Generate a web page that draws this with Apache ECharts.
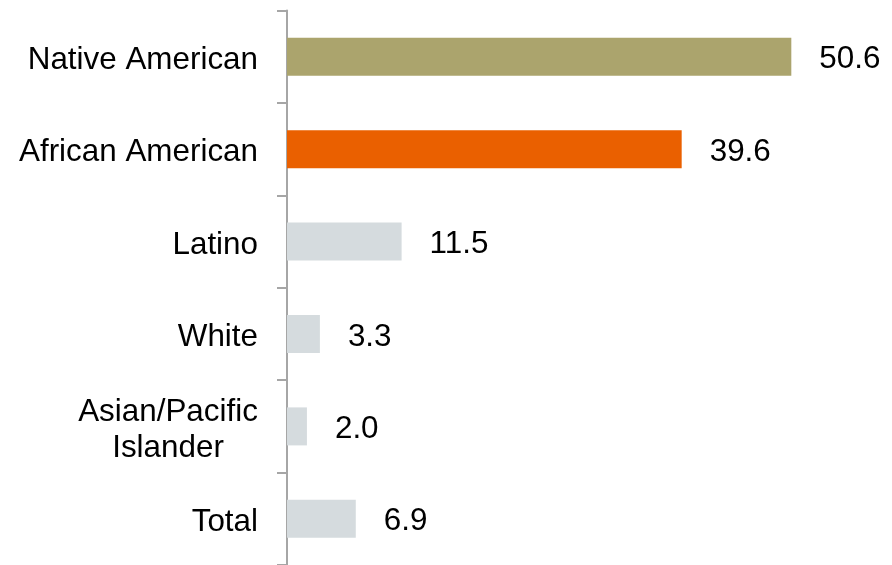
<!DOCTYPE html>
<html>
<head>
<meta charset="utf-8">
<script src="https://cdn.jsdelivr.net/npm/echarts@6/dist/echarts.min.js"></script>
<style>
  html, body { margin: 0; padding: 0; background: #fff; }
  #chart { width: 892px; height: 565px; }
</style>
</head>
<body>
<div id="chart"></div>
<script>
// Rates by group, top to bottom
const categories = ['Native American', 'African American', 'Latino', 'White', 'Asian/Pacific\nIslander', 'Total'];
const values = [50.6, 39.6, 11.5, 3.3, 2.0, 6.9];
const barColors = ['#ABA46D', '#EA6000', '#D5DBDE', '#D5DBDE', '#D5DBDE', '#D5DBDE'];

const chart = echarts.init(document.getElementById('chart'), null, { renderer: 'canvas' });

const FONT = '"Liberation Sans", Arial, sans-serif';
const FONT_SIZE = 31.4;

// width of the widest line, so the lines of a wrapped label sit centred on each other
function lineWidth(text) {
  const ctx = document.createElement('canvas').getContext('2d');
  ctx.font = FONT_SIZE + 'px ' + FONT;
  return Math.ceil(ctx.measureText(text).width);
}
const wrapWidth = Math.max.apply(null, categories
  .filter(function (c) { return c.indexOf('\n') >= 0; })
  .map(function (c) { return Math.max.apply(null, c.split('\n').map(lineWidth)); })
  .concat([0]));

chart.setOption({
  animation: false,
  grid: { left: 287, right: 7, top: 10.6, height: 556.8, containLabel: false },
  xAxis: {
    type: 'value',
    min: 0,
    max: 60,
    show: false
  },
  yAxis: {
    type: 'category',
    inverse: true,
    data: categories,
    axisLine: { show: true, lineStyle: { color: '#A6A6A6', width: 2 } },
    axisTick: { show: true, length: 10, lineStyle: { color: '#A6A6A6', width: 2 } },
    axisLabel: {
      margin: 29,
      color: '#000',
      fontFamily: FONT,
      fontSize: FONT_SIZE,
      lineHeight: 36,
      padding: [7, 0, 0, 0],
      formatter: function (v) {
        if (v.indexOf('\n') >= 0) {
          return v.split('\n').map(function (s) { return '{c|' + s + '}'; }).join('\n');
        }
        return v;
      },
      rich: {
        c: { width: wrapWidth, align: 'center', fontFamily: FONT, fontSize: FONT_SIZE, lineHeight: 36, color: '#000' }
      }
    }
  },
  series: [{
    type: 'bar',
    data: values.map(function (v, i) { return { value: v, itemStyle: { color: barColors[i] } }; }),
    barWidth: 38,
    label: {
      show: true,
      position: 'right',
      distance: 28,
      offset: [0, 3],
      color: '#000',
      fontFamily: FONT,
      fontSize: FONT_SIZE,
      formatter: function (p) { return p.value.toFixed(1); }
    }
  }]
});
</script>
</body>
</html>
